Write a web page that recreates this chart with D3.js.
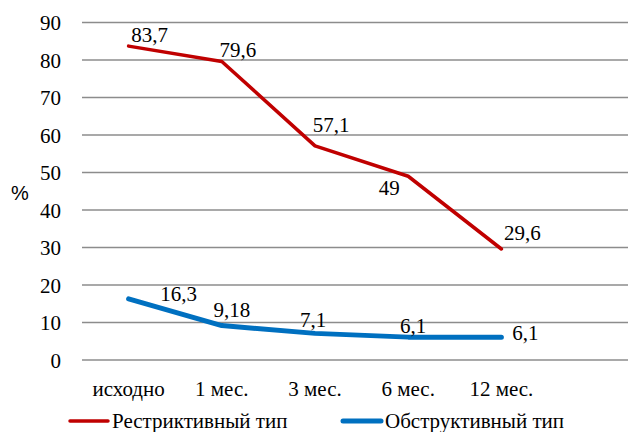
<!DOCTYPE html>
<html><head><meta charset="utf-8">
<script src="https://cdn.jsdelivr.net/npm/d3@7"></script>
<style>
body { margin: 0; background: #fff; }
svg { display: block; }
</style>
</head><body>
<script>
const categories = ["исходно", "1 мес.", "3 мес.", "6 мес.", "12 мес."];
const restrictive = [83.7, 79.6, 57.1, 49, 29.6];
const restrictiveLabels = ["83,7", "79,6", "57,1", "49", "29,6"];
const obstructive = [16.3, 9.18, 7.1, 6.1, 6.1];
const obstructiveLabels = ["16,3", "9,18", "7,1", "6,1", "6,1"];
const yTicks = [0, 10, 20, 30, 40, 50, 60, 70, 80, 90];
const seriesNames = ["Рестриктивный тип", "Обструктивный тип"];

const W = 628, H = 432;
const FONT = "Liberation Serif";
const svg = d3.select("body").append("svg").attr("width", W).attr("height", H)
  .attr("font-family", FONT);

const left = 82, step = 93.2;
const x = d3.scalePoint().domain(categories).range([left + step / 2, left + step * 4.5]);
const y = d3.scaleLinear().domain([0, 90]).range([360, 22.5]);

// grid
svg.append("g").selectAll("line").data(yTicks).join("line")
  .attr("x1", left).attr("x2", W).attr("y1", d => y(d)).attr("y2", d => y(d))
  .attr("stroke", "#8c8c8c").attr("stroke-width", 1.3);

function txt(sel) {
  return sel.style("font-family", FONT).attr("font-size", 21).attr("fill", "#000");
}

// y axis labels
txt(svg.append("g").selectAll("text").data(yTicks).join("text"))
  .attr("x", 61).attr("y", d => y(d) + 7.5).attr("text-anchor", "end").text(d => d);

svg.append("text").style("font-family", "Liberation Sans").attr("x", 20).attr("y", 200)
  .attr("text-anchor", "middle").attr("font-size", 20).text("%");

// x labels
txt(svg.append("g").selectAll("text").data(categories).join("text"))
  .attr("x", d => x(d)).attr("y", 396).attr("text-anchor", "middle").text(d => d);

const line = d3.line().x((d, i) => x(categories[i])).y(d => y(d));
svg.append("path").datum(obstructive).attr("d", line).attr("fill", "none")
  .attr("stroke", "#0070C0").attr("stroke-width", 5).attr("stroke-linecap", "round").attr("stroke-linejoin", "round");
svg.append("path").datum(restrictive).attr("d", line).attr("fill", "none")
  .attr("stroke", "#C00000").attr("stroke-width", 3.5).attr("stroke-linecap", "round").attr("stroke-linejoin", "round");

// data label offsets (dx from point, baseline dy from point)
const rOff = [[21, -4], [16, -5], [16, -14], [-19, 19], [21, -9]];
const bOff = [[50, 2], [10, -9], [-2, -6], [5, -4], [24, 3]];
txt(svg.append("g").selectAll("text").data(restrictive).join("text"))
  .attr("x", (d, i) => x(categories[i]) + rOff[i][0]).attr("y", (d, i) => y(d) + rOff[i][1])
  .attr("text-anchor", "middle").text((d, i) => restrictiveLabels[i]);
txt(svg.append("g").selectAll("text").data(obstructive).join("text"))
  .attr("x", (d, i) => x(categories[i]) + bOff[i][0]).attr("y", (d, i) => y(d) + bOff[i][1])
  .attr("text-anchor", "middle").text((d, i) => obstructiveLabels[i]);

// legend
const leg = [{x: 70, c: "#C00000", w: 3.5}, {x: 343, c: "#0070C0", w: 5}];
leg.forEach((l, i) => {
  svg.append("line").attr("x1", l.x).attr("x2", l.x + 38).attr("y1", 421).attr("y2", 421)
    .attr("stroke", l.c).attr("stroke-width", l.w).attr("stroke-linecap", "round");
  txt(svg.append("text")).attr("x", l.x + 42).attr("y", 428).text(seriesNames[i]);
});
</script>
</body></html>
